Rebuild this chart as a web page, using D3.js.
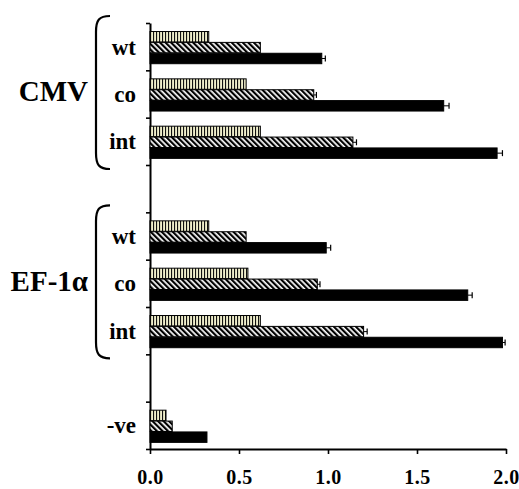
<!DOCTYPE html>
<html>
<head>
<meta charset="utf-8">
<script src="https://cdn.jsdelivr.net/npm/d3@7"></script>
<style>
  body { margin: 0; background: #fff; }
  svg { display: block; }
</style>
</head>
<body>
<div id="chart"></div>
<script>
// rows from top to bottom (blank rows are the gaps between groups)
var rowLabels = ["wt", "co", "int", "", "wt", "co", "int", "", "-ve"];
var seriesKeys = ["striped", "hatched", "solid"];

var stripedVals = [0.33, 0.54, 0.62, null, 0.33, 0.55, 0.62, null, 0.09];
var hatchedVals = [0.62, 0.92, 1.14, null, 0.54, 0.94, 1.20, null, 0.125];
var solidVals   = [0.965, 1.65, 1.95, null, 0.99, 1.785, 1.98, null, 0.32];

var hatchedErr = [0, 0.015, 0.02, null, 0, 0.015, 0.02, null, 0];
var solidErr   = [0.02, 0.03, 0.03, null, 0.025, 0.025, 0.015, null, 0];

var groupNames = ["CMV", "EF-1\u03b1"];
var groupStart = [0, 4];
var groupEnd   = [2, 6];

var xTicks = [0, 0.5, 1.0, 1.5, 2.0];

var SERIF = "'Liberation Serif'";

var margin = {top: 23, right: 13, bottom: 40, left: 150},
  width = 519 - margin.left - margin.right,
  height = 489 - margin.top - margin.bottom;

var svg = d3.select("#chart")
  .append("svg")
  .attr("width", 519)
  .attr("height", 489)
  .append("g")
  .attr("transform", "translate(" + margin.left + "," + margin.top + ")");

// patterns
var defs = d3.select("#chart svg").append("defs");
var vp = defs.append("pattern")
  .attr("id", "vstripe")
  .attr("patternUnits", "userSpaceOnUse")
  .attr("width", 3).attr("height", 12);
vp.append("rect").attr("width", 3).attr("height", 12).attr("fill", "#efeecb");
vp.append("rect").attr("x", 0).attr("width", 1.1).attr("height", 12).attr("fill", "#111");

var dp = defs.append("pattern")
  .attr("id", "dstripe")
  .attr("patternUnits", "userSpaceOnUse")
  .attr("width", 3.9).attr("height", 12)
  .attr("patternTransform", "rotate(-45)");
dp.append("rect").attr("width", 3.9).attr("height", 12).attr("fill", "#fff");
dp.append("rect").attr("width", 2.2).attr("height", 12).attr("fill", "#000");

var fills = {striped: "url(#vstripe)", hatched: "url(#dstripe)", solid: "#000"};

var rows = rowLabels.map(function(l, i) {
  return {
    i: i, label: l,
    striped: stripedVals[i], hatched: hatchedVals[i], solid: solidVals[i],
    hatchedErr: hatchedErr[i], solidErr: solidErr[i]
  };
});

// scales
var x = d3.scaleLinear().domain([0, 2]).range([0, width]);
var y = d3.scaleBand().domain(d3.range(rowLabels.length)).range([0, height]).padding(0);
var yIdx = d3.scaleLinear().domain([0, rowLabels.length]).range([0, height]);
var ySub = d3.scaleBand().domain(seriesKeys)
  .range([y.bandwidth() * 0.18, y.bandwidth() * 0.86]).paddingInner(0.04);

// x axis
var xAxis = svg.append("g")
  .attr("transform", "translate(0," + height + ")")
  .call(d3.axisBottom(x).tickValues(xTicks).tickFormat(d3.format(".1f"))
    .tickSize(5).tickSizeOuter(0).tickPadding(16));
xAxis.select(".domain").attr("stroke-width", 2);
xAxis.selectAll(".tick line").attr("stroke-width", 1.6);
xAxis.selectAll("text")
  .style("font-family", SERIF)
  .style("font-weight", "bold")
  .style("font-size", "20px")
  .style("letter-spacing", "0.5px")
  .attr("fill", "#000");

// y axis with ticks at row boundaries
var yAxis = svg.append("g")
  .call(d3.axisLeft(yIdx).tickValues(d3.range(rowLabels.length + 1))
    .tickFormat("").tickSize(4).tickSizeOuter(0));
yAxis.select(".domain").attr("stroke-width", 2);
yAxis.selectAll(".tick line").attr("stroke-width", 1.6);

// bars
var barRows = rows.filter(function(d) { return d.solid != null; });
seriesKeys.forEach(function(k) {
  svg.selectAll(".bar-" + k)
    .data(barRows)
    .enter()
    .append("rect")
    .attr("class", "bar-" + k)
    .attr("x", x(0))
    .attr("y", function(d) { return y(d.i) + ySub(k); })
    .attr("width", function(d) { return x(d[k]) - x(0); })
    .attr("height", ySub.bandwidth())
    .attr("fill", fills[k])
    .attr("stroke", "#000")
    .attr("stroke-width", 1);
});

// error bars
["hatched", "solid"].forEach(function(k) {
  var eb = svg.selectAll(".err-" + k)
    .data(barRows.filter(function(d) { return d[k + "Err"] > 0; }))
    .enter()
    .append("g")
    .attr("transform", function(d) {
      return "translate(0," + (y(d.i) + ySub(k) + ySub.bandwidth() / 2) + ")";
    });
  eb.append("line")
    .attr("x1", function(d) { return x(d[k]); })
    .attr("x2", function(d) { return x(d[k] + d[k + "Err"]); })
    .attr("stroke", "#000").attr("stroke-width", 1);
  eb.append("line")
    .attr("x1", function(d) { return x(d[k] + d[k + "Err"]); })
    .attr("x2", function(d) { return x(d[k] + d[k + "Err"]); })
    .attr("y1", -3).attr("y2", 3)
    .attr("stroke", "#000").attr("stroke-width", 1.2);
});

// row labels
svg.selectAll(".rowlab")
  .data(rows.filter(function(d) { return d.label !== ""; }))
  .enter()
  .append("text")
  .attr("x", -14)
  .attr("y", function(d) { return y(d.i) + y.bandwidth() / 2; })
  .attr("dy", "0.35em")
  .attr("text-anchor", "end")
  .style("font-family", SERIF)
  .style("font-weight", "bold")
  .style("font-size", "23px")
  .text(function(d) { return d.label; });

// group brackets and names
groupNames.forEach(function(name, gi) {
  var top = y(groupStart[gi]) - 7,
    bot = y(groupEnd[gi]) + y.bandwidth() + 4,
    bx = -54, ex = -40;
  svg.append("path")
    .attr("d", "M" + ex + "," + top +
      " C" + (bx + 3) + "," + top + " " + bx + "," + (top + 4) + " " + bx + "," + (top + 16) +
      " L" + bx + "," + (bot - 16) +
      " C" + bx + "," + (bot - 4) + " " + (bx + 3) + "," + bot + " " + ex + "," + bot)
    .attr("fill", "none")
    .attr("stroke", "#000")
    .attr("stroke-width", 2.2);
  svg.append("text")
    .attr("x", -62)
    .attr("y", (top + bot) / 2)
    .attr("dy", "0.3em")
    .attr("text-anchor", "end")
    .style("font-family", SERIF)
    .style("font-weight", "bold")
    .style("font-size", "29px")
    .text(name);
});
</script>
</body>
</html>
